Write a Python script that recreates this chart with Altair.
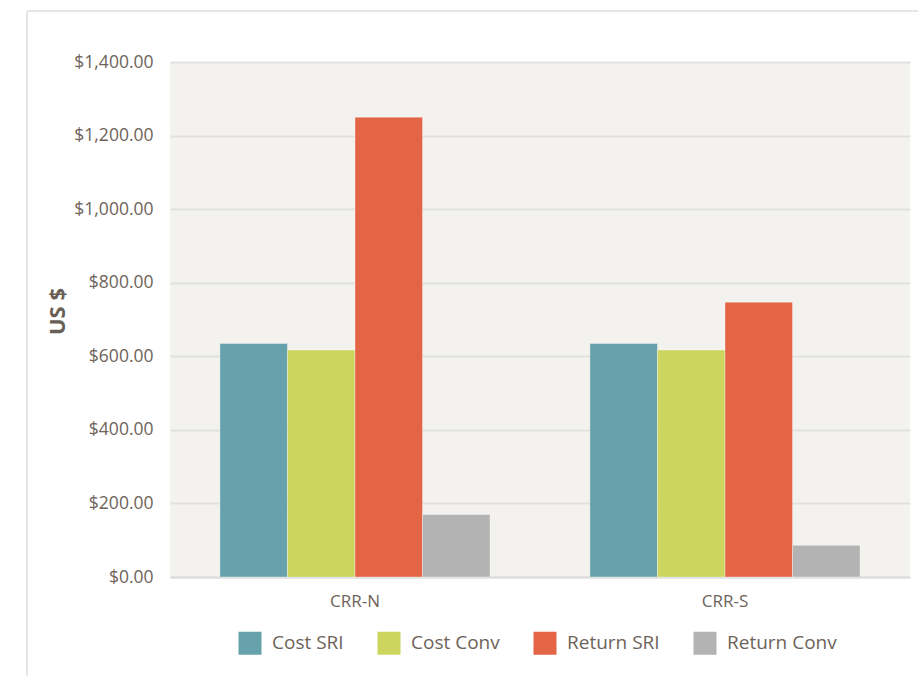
import altair as alt
import pandas as pd

# Cost and return per hectare, SRI vs conventional, for the two sites
sites = ["CRR-N", "CRR-S"]
series = ["Cost SRI", "Cost Conv", "Return SRI", "Return Conv"]
values_crr_n = [635, 617, 1250, 170]
values_crr_s = [635, 617, 747, 86]
colors = ["#67A1AC", "#CCD55E", "#E46446", "#B3B3B3"]
y_ticks = [0, 200, 400, 600, 800, 1000, 1200, 1400]

rows = []
for site, vals in zip(sites, [values_crr_n, values_crr_s]):
    for s, v in zip(series, vals):
        rows.append({"site": site, "series": s, "value": v})
df = pd.DataFrame(rows)

FONT = "Open Sans"
TEXT = "#6E635A"

bars = alt.Chart(df).mark_bar(stroke="white", strokeOpacity=0.35, strokeWidth=1).encode(
    x=alt.X("site:N", sort=sites,
            scale=alt.Scale(paddingInner=0.27, paddingOuter=0.135),
            axis=alt.Axis(title=None, labelAngle=0, ticks=False, domain=True,
                          domainColor="#DCDCDC", domainWidth=2,
                          labelPadding=16, labelFontSize=17, labelColor=TEXT,
                          labelFont=FONT)),
    xOffset=alt.XOffset("series:N", sort=series),
    y=alt.Y("value:Q",
            scale=alt.Scale(domain=[0, 1400], nice=False),
            axis=alt.Axis(title="US $", values=y_ticks, format="$,.2f",
                          ticks=False, domain=False, grid=True,
                          gridColor="#E2E1DE", gridWidth=2,
                          labelPadding=17, labelFontSize=17.5, labelColor=TEXT,
                          labelFont=FONT,
                          titleFont=FONT, titleFontSize=22, titleFontWeight="bold",
                          titleColor="#6A5F56", titleX=-101, titleY=249)),
    color=alt.Color("series:N", sort=series,
                    scale=alt.Scale(domain=series, range=colors),
                    legend=alt.Legend(title=None, orient="none", direction="horizontal",
                                      legendX=68, legendY=569,
                                      symbolType="square", symbolSize=530,
                                      symbolStrokeWidth=0, symbolOffset=0,
                                      labelFontSize=19, labelColor=TEXT, labelFont=FONT,
                                      labelOffset=10, columnPadding=33)),
)

# light outer frame along the top and left edges of the page
frame_top = alt.Chart(df).mark_rule(color="#E6E6E6", strokeWidth=2).encode(
    x=alt.value(-143), x2=alt.value(748), y=alt.value(-51)
)
frame_left = alt.Chart(df).mark_rule(color="#E6E6E6", strokeWidth=2).encode(
    x=alt.value(-143), y=alt.value(-51), y2=alt.value(614)
)

chart = alt.layer(frame_top, frame_left, bars).properties(
    width=740, height=515,
    autosize=alt.AutoSizeParams(type="none"),
    padding={"left": 170, "top": 62, "right": 8, "bottom": 99},
    background="white",
).configure_view(fill="#F3F2EE", stroke=None)

chart.save("out.html", embed_options={"renderer": "svg", "actions": False})
